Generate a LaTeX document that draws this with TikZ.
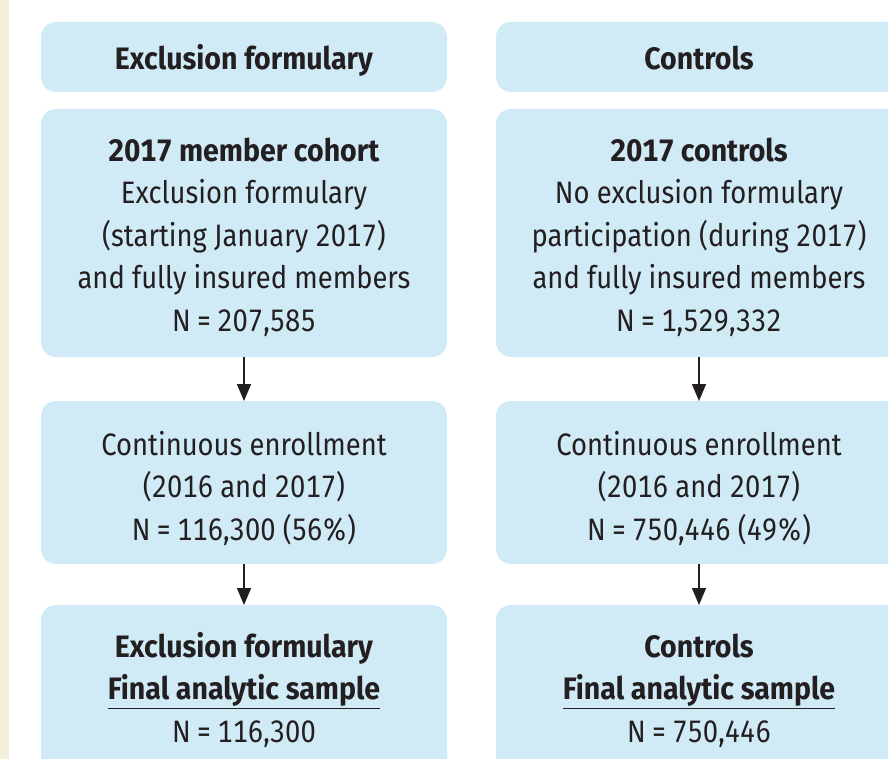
\documentclass[tikz,border=0pt]{standalone}
\usepackage{fontspec}
\setmainfont{Fira Sans}[FakeStretch=0.883, Numbers=Monospaced, BoldFeatures={FakeStretch=0.92}]
\usetikzlibrary{arrows.meta}
\definecolor{boxblue}{HTML}{D0EAF6}
\definecolor{beige}{HTML}{F3F0DA}
\definecolor{ink}{HTML}{231F20}
\newcommand{\eqsp}{\hspace{0.18em}=\hspace{0.18em}}
\begin{document}
\begin{tikzpicture}[x=1pt,y=-1pt,
  box/.style={fill=boxblue, draw=none, rounded corners=15pt, minimum width=406pt, inner sep=0pt, outer sep=0pt},
  txt/.style={align=center, text=ink, font=\fontsize{31}{42.5}\selectfont, inner sep=0pt, anchor=base},
  arr/.style={-{Triangle[length=17pt,width=14pt]}, line width=1.5pt, draw=ink, shorten >=0pt}]
\useasboundingbox (0,0) rectangle (888,759);
\clip (0,0) rectangle (888,759);
\fill[beige] (0,0) rectangle (9,759);
% boxes
\node[box, minimum height=70pt] (l1) at (244,57) {};
\node[box, minimum height=248pt] (l2) at (244,233) {};
\node[box, minimum height=163pt] (l3) at (244,482.5) {};
\node[box, minimum height=190pt] (l4) at (244,700) {};
\node[box, minimum height=70pt] (r1) at (699,57) {};
\node[box, minimum height=248pt] (r2) at (699,233) {};
\node[box, minimum height=163pt] (r3) at (699,482.5) {};
\node[box, minimum height=190pt] (r4) at (699,700) {};
% texts (anchored at the baseline of the last line)
\node[txt] (tl1) at (244,70) {\textbf{Exclusion formulary}};
\node[txt] (tr1) at (699,70) {\textbf{Controls}};
\node[txt] (tl2) at (244,331) {\textbf{2017 member cohort}\\Exclusion formulary\\(starting January 2017)\\and fully insured members\\N\eqsp207,585};
\node[txt] (tr2) at (699,331) {\textbf{2017 controls}\\No exclusion formulary\\participation (during 2017)\\and fully insured members\\N\eqsp1,529,332};
\node[txt] (tl3) at (244,540) {Continuous enrollment\\(2016 and 2017)\\N\eqsp116,300 (56\%)};
\node[txt] (tr3) at (699,540) {Continuous enrollment\\(2016 and 2017)\\N\eqsp750,446 (49\%)};
\node[txt] (tl4) at (244,742) {\textbf{Exclusion formulary}\\\textbf{\underline{Final analytic sample}}\\N\eqsp116,300};
\node[txt] (tr4) at (699,742) {\textbf{Controls}\\\textbf{\underline{Final analytic sample}}\\N\eqsp750,446};
% arrows
\draw[arr] (l2.south) -- (l3.north);
\draw[arr] (l3.south) -- (l4.north);
\draw[arr] (r2.south) -- (r3.north);
\draw[arr] (r3.south) -- (r4.north);
\end{tikzpicture}
\end{document}
